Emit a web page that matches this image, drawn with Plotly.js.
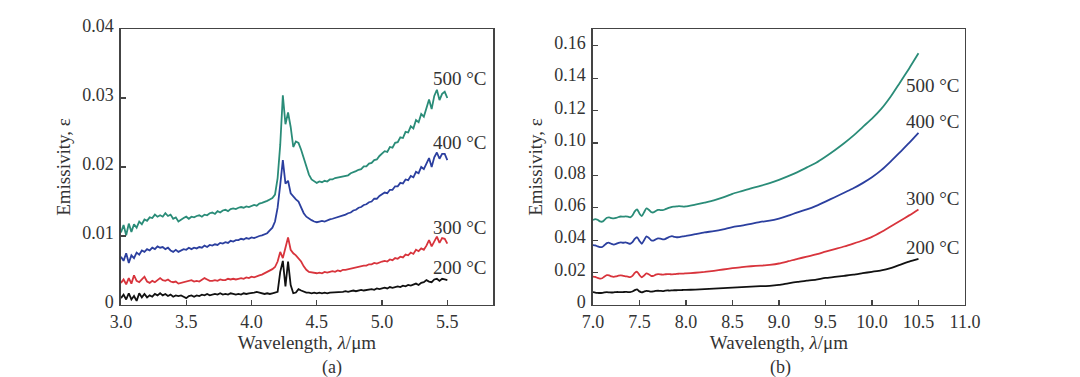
<!DOCTYPE html>
<html>
<head>
<meta charset="utf-8">
<script src="https://cdn.plot.ly/plotly-3.0.1.min.js"></script>
<style>html,body{margin:0;padding:0;background:#fff;}#chart{width:1080px;height:377px;}</style>
</head>
<body>
<div id="chart"></div>
<script>
// ---------- Panel (a): 3.0–5.5 µm ----------
const wavelengthA = [];
for (let i = 0; i <= 125; i++) wavelengthA.push(+(3.0 + 0.02 * i).toFixed(2));

const emis500A = [
0.0105,0.0116,0.0101,0.0118,0.0106,0.0117,0.0112,0.0121,0.0117,0.0124,
0.0122,0.0127,0.0126,0.0131,0.0128,0.0130,0.0128,0.0133,0.0129,0.0131,
0.0125,0.0127,0.0121,0.0124,0.0126,0.0128,0.0125,0.0128,0.0127,0.0129,
0.0130,0.0128,0.0131,0.0130,0.0133,0.0134,0.0132,0.0136,0.0134,0.0137,
0.0138,0.0136,0.0139,0.0140,0.0139,0.0141,0.0142,0.0141,0.0143,0.0142,
0.0144,0.0145,0.0144,0.0147,0.0148,0.0149,0.0151,0.0153,0.0155,0.0160,
0.0184,0.0232,0.0304,0.0262,0.0279,0.0258,0.0229,0.0237,0.0235,0.0225,
0.0213,0.0200,0.0189,0.0182,0.0179,0.0177,0.0179,0.0178,0.0180,0.0179,
0.0182,0.0182,0.0184,0.0185,0.0185,0.0187,0.0188,0.0188,0.0191,0.0192,
0.0194,0.0196,0.0197,0.0201,0.0201,0.0205,0.0206,0.0210,0.0211,0.0216,
0.0219,0.0223,0.0222,0.0229,0.0228,0.0235,0.0236,0.0243,0.0242,0.0251,
0.0250,0.0259,0.0256,0.0268,0.0265,0.0277,0.0273,0.0287,0.0298,0.0284,
0.0303,0.0312,0.0297,0.0306,0.0309,0.0300];

const emis400A = [
0.0070,0.0064,0.0075,0.0061,0.0072,0.0068,0.0076,0.0073,0.0079,0.0077,
0.0081,0.0079,0.0083,0.0081,0.0085,0.0083,0.0084,0.0081,0.0083,0.0079,
0.0077,0.0080,0.0077,0.0079,0.0081,0.0080,0.0083,0.0081,0.0083,0.0082,
0.0084,0.0083,0.0086,0.0084,0.0087,0.0086,0.0088,0.0087,0.0090,0.0089,
0.0091,0.0090,0.0093,0.0092,0.0094,0.0094,0.0096,0.0095,0.0097,0.0096,
0.0098,0.0097,0.0099,0.0100,0.0101,0.0103,0.0104,0.0108,0.0112,0.0121,
0.0141,0.0174,0.0210,0.0176,0.0180,0.0162,0.0157,0.0153,0.0150,0.0141,
0.0133,0.0128,0.0125,0.0123,0.0121,0.0120,0.0121,0.0122,0.0121,0.0123,
0.0124,0.0125,0.0126,0.0127,0.0129,0.0130,0.0131,0.0133,0.0134,0.0137,
0.0138,0.0141,0.0142,0.0145,0.0146,0.0149,0.0150,0.0154,0.0154,0.0158,
0.0160,0.0163,0.0162,0.0167,0.0167,0.0172,0.0172,0.0177,0.0176,0.0182,
0.0181,0.0187,0.0185,0.0193,0.0191,0.0200,0.0197,0.0206,0.0213,0.0200,
0.0214,0.0221,0.0212,0.0219,0.0219,0.0210];

const emis300A = [
0.0032,0.0037,0.0030,0.0039,0.0031,0.0043,0.0035,0.0033,0.0037,0.0041,
0.0034,0.0032,0.0035,0.0033,0.0036,0.0039,0.0036,0.0035,0.0037,0.0034,
0.0033,0.0034,0.0031,0.0032,0.0033,0.0033,0.0035,0.0036,0.0034,0.0035,
0.0034,0.0036,0.0039,0.0037,0.0035,0.0035,0.0036,0.0035,0.0037,0.0036,
0.0036,0.0038,0.0037,0.0038,0.0037,0.0038,0.0039,0.0038,0.0040,0.0039,
0.0041,0.0040,0.0042,0.0043,0.0044,0.0046,0.0047,0.0049,0.0052,0.0055,
0.0063,0.0077,0.0068,0.0083,0.0098,0.0080,0.0075,0.0072,0.0068,0.0063,
0.0056,0.0051,0.0048,0.0047,0.0046,0.0046,0.0047,0.0046,0.0048,0.0047,
0.0048,0.0049,0.0048,0.0050,0.0049,0.0051,0.0051,0.0052,0.0052,0.0054,
0.0054,0.0055,0.0056,0.0057,0.0057,0.0059,0.0059,0.0061,0.0060,0.0062,
0.0063,0.0064,0.0063,0.0066,0.0065,0.0068,0.0067,0.0070,0.0069,0.0073,
0.0072,0.0076,0.0074,0.0080,0.0078,0.0082,0.0080,0.0086,0.0094,0.0085,
0.0093,0.0099,0.0090,0.0097,0.0096,0.0089];

const emis200A = [
0.0010,0.0015,0.0008,0.0017,0.0008,0.0013,0.0006,0.0017,0.0011,0.0016,
0.0011,0.0014,0.0012,0.0016,0.0014,0.0017,0.0014,0.0016,0.0013,0.0015,
0.0012,0.0014,0.0013,0.0014,0.0012,0.0010,0.0013,0.0014,0.0012,0.0014,
0.0013,0.0015,0.0014,0.0016,0.0014,0.0015,0.0016,0.0015,0.0017,0.0015,
0.0016,0.0015,0.0017,0.0016,0.0015,0.0016,0.0015,0.0017,0.0016,0.0017,
0.0017,0.0018,0.0019,0.0018,0.0016,0.0016,0.0017,0.0016,0.0017,0.0018,
0.0019,0.0048,0.0064,0.0027,0.0063,0.0029,0.0017,0.0018,0.0023,0.0021,
0.0019,0.0018,0.0018,0.0017,0.0018,0.0017,0.0018,0.0017,0.0018,0.0017,
0.0018,0.0018,0.0019,0.0018,0.0019,0.0019,0.0020,0.0019,0.0020,0.0021,
0.0020,0.0021,0.0022,0.0021,0.0022,0.0022,0.0023,0.0022,0.0024,0.0023,
0.0024,0.0025,0.0024,0.0026,0.0025,0.0026,0.0027,0.0026,0.0028,0.0027,
0.0029,0.0028,0.0030,0.0031,0.0029,0.0032,0.0033,0.0036,0.0034,0.0033,
0.0037,0.0038,0.0035,0.0038,0.0037,0.0036];

// ---------- Panel (b): 7.0–10.5 µm ----------
const wavelengthB = [
7.000,7.025,7.050,7.075,7.100,7.125,7.150,7.175,7.200,7.225,
7.250,7.275,7.300,7.325,7.350,7.375,7.400,7.425,7.450,7.475,
7.500,7.525,7.550,7.575,7.600,7.625,7.650,7.675,7.700,7.725,
7.750,7.775,7.800,7.825,7.850,7.875,7.900,7.925,7.950,7.975,
8.000,8.1,8.2,8.3,8.4,8.5,8.6,8.7,8.8,8.9,
9.0,9.1,9.2,9.3,9.4,9.5,9.6,9.7,9.8,9.9,
10.0,10.1,10.2,10.3,10.4,10.5];

const emis500B = [
0.0525,0.0530,0.0526,0.0516,0.0514,0.0525,0.0538,0.0541,0.0536,0.0534,
0.0537,0.0543,0.0546,0.0545,0.0547,0.0545,0.0541,0.0552,0.0578,0.0590,
0.0565,0.0548,0.0572,0.0596,0.0588,0.0574,0.0571,0.0580,0.0587,0.0586,
0.0585,0.0590,0.0596,0.0601,0.0606,0.0607,0.0608,0.0610,0.0609,0.0607,
0.0608,0.0620,0.0632,0.0645,0.0664,0.0686,0.0703,0.0720,0.0735,0.0752,
0.0772,0.0795,0.0820,0.0849,0.0878,0.0915,0.0955,0.0998,0.1045,0.1098,
0.1150,0.1210,0.1285,0.1372,0.1460,0.1553];

const emis400B = [
0.0370,0.0368,0.0362,0.0357,0.0358,0.0370,0.0382,0.0384,0.0377,0.0373,
0.0377,0.0383,0.0386,0.0384,0.0386,0.0382,0.0378,0.0388,0.0408,0.0418,
0.0395,0.0378,0.0400,0.0424,0.0415,0.0400,0.0397,0.0405,0.0411,0.0409,
0.0405,0.0407,0.0414,0.0421,0.0425,0.0421,0.0418,0.0419,0.0422,0.0424,
0.0426,0.0437,0.0448,0.0456,0.0467,0.0481,0.0490,0.0501,0.0513,0.0520,
0.0533,0.0551,0.0572,0.0590,0.0612,0.0638,0.0665,0.0693,0.0720,0.0752,
0.0788,0.0832,0.0885,0.0942,0.1000,0.1062];

const emis300B = [
0.0175,0.0173,0.0167,0.0163,0.0165,0.0176,0.0184,0.0183,0.0176,0.0174,
0.0177,0.0181,0.0183,0.0180,0.0177,0.0175,0.0172,0.0180,0.0198,0.0205,
0.0185,0.0171,0.0182,0.0195,0.0190,0.0180,0.0180,0.0187,0.0190,0.0189,
0.0187,0.0189,0.0191,0.0190,0.0189,0.0190,0.0192,0.0193,0.0194,0.0194,
0.0195,0.0199,0.0204,0.0211,0.0219,0.0227,0.0234,0.0239,0.0243,0.0248,
0.0256,0.0270,0.0285,0.0298,0.0312,0.0329,0.0345,0.0361,0.0379,0.0398,
0.0420,0.0450,0.0484,0.0518,0.0553,0.0590];

const emis200B = [
0.0080,0.0077,0.0075,0.0074,0.0075,0.0078,0.0079,0.0078,0.0077,0.0078,
0.0080,0.0080,0.0079,0.0080,0.0081,0.0080,0.0080,0.0083,0.0092,0.0097,
0.0084,0.0078,0.0083,0.0087,0.0085,0.0083,0.0084,0.0087,0.0088,0.0087,
0.0086,0.0088,0.0090,0.0089,0.0090,0.0091,0.0091,0.0092,0.0092,0.0093,
0.0093,0.0095,0.0098,0.0101,0.0104,0.0107,0.0110,0.0113,0.0116,0.0118,
0.0124,0.0134,0.0143,0.0150,0.0157,0.0167,0.0173,0.0180,0.0187,0.0196,
0.0205,0.0214,0.0228,0.0248,0.0268,0.0285];

const seriesNames = ['500 °C', '400 °C', '300 °C', '200 °C'];
const seriesColors = ['#2a8c78', '#2b3f9f', '#d8343c', '#111111'];

const xTicksA = [3.0, 3.5, 4.0, 4.5, 5.0, 5.5];
const yTicksA = [0, 0.01, 0.02, 0.03, 0.04];
const yTickTextA = ['0', '0.01', '0.02', '0.03', '0.04'];
const xTicksB = [7.0, 7.5, 8.0, 8.5, 9.0, 9.5, 10.0, 10.5, 11.0];
const yTicksB = [0, 0.02, 0.04, 0.06, 0.08, 0.10, 0.12, 0.14, 0.16];
const yTickTextB = ['0', '0.02', '0.04', '0.06', '0.08', '0.10', '0.12', '0.14', '0.16'];

// label anchor values (data coordinates)
const labelXA = 5.60;
const labelYA = [0.0328, 0.0235, 0.0112, 0.0055];
const labelXB = 10.66;
const labelYB = [0.1357, 0.1135, 0.0660, 0.0352];

const seriesA = [emis500A, emis400A, emis300A, emis200A];
const seriesB = [emis500B, emis400B, emis300B, emis200B];

const traces = [];
seriesA.forEach((ys, k) => traces.push({
  x: wavelengthA, y: ys, type: 'scatter', mode: 'lines', name: seriesNames[k],
  line: {color: seriesColors[k], width: 1.8}, xaxis: 'x', yaxis: 'y', showlegend: false
}));
seriesB.forEach((ys, k) => traces.push({
  x: wavelengthB, y: ys, type: 'scatter', mode: 'lines', name: seriesNames[k],
  line: {color: seriesColors[k], width: 1.8, shape: 'spline', smoothing: 0.6}, xaxis: 'x2', yaxis: 'y2', showlegend: false
}));

const FONT = 'Liberation Serif, Times New Roman, serif';
const TXT = '#333333';
const axisCommon = {
  showline: true, mirror: true, linecolor: '#444444', linewidth: 1.5,
  ticks: 'inside', ticklen: 5, tickwidth: 1.2, tickcolor: '#444444',
  showgrid: false, zeroline: false,
  tickfont: {family: FONT, size: 18, color: TXT}
};

const annotations = [];
seriesNames.forEach((n, k) => {
  annotations.push({x: labelXA, y: labelYA[k], xref: 'x', yref: 'y', text: n, showarrow: false,
    font: {family: FONT, size: 19, color: TXT}});
  annotations.push({x: labelXB, y: labelYB[k], xref: 'x2', yref: 'y2', text: n, showarrow: false,
    font: {family: FONT, size: 19, color: TXT}});
});
annotations.push({x: 0.296, y: 0.024, xref: 'paper', yref: 'paper', text: '(a)', showarrow: false,
  yanchor: 'middle', font: {family: FONT, size: 18, color: TXT}});
annotations.push({x: 0.734, y: 0.024, xref: 'paper', yref: 'paper', text: '(b)', showarrow: false,
  yanchor: 'middle', font: {family: FONT, size: 18, color: TXT}});

const layout = {
  width: 1080, height: 377, autosize: false,
  margin: {l: 0, r: 0, t: 0, b: 0},
  paper_bgcolor: '#ffffff', plot_bgcolor: '#ffffff',
  font: {family: FONT, color: TXT},
  xaxis: Object.assign({}, axisCommon, {
    domain: [0.112, 0.4565], range: [3.0, 5.85], anchor: 'y',
    tickvals: xTicksA, tickformat: '.1f',
    title: {text: 'Wavelength, <i>λ</i>/μm', font: {family: FONT, size: 19, color: TXT}, standoff: 4}
  }),
  yaxis: Object.assign({}, axisCommon, {
    domain: [0.191, 0.923], range: [0, 0.04], anchor: 'x',
    tickvals: yTicksA, ticktext: yTickTextA, ticklabelshift: -3, ticklabelstandoff: 2,
    title: {text: 'Emissivity, ε', font: {family: FONT, size: 19, color: TXT}, standoff: 6}
  }),
  xaxis2: Object.assign({}, axisCommon, {
    domain: [0.549, 0.8935], range: [7.0, 11.0], anchor: 'y2',
    tickvals: xTicksB, tickformat: '.1f',
    title: {text: 'Wavelength, <i>λ</i>/μm', font: {family: FONT, size: 19, color: TXT}, standoff: 4}
  }),
  yaxis2: Object.assign({}, axisCommon, {
    domain: [0.191, 0.923], range: [0, 0.1703], anchor: 'x2',
    tickvals: yTicksB, ticktext: yTickTextB, ticklabelshift: -3, ticklabelstandoff: 2,
    title: {text: 'Emissivity, ε', font: {family: FONT, size: 19, color: TXT}, standoff: 6}
  }),
  annotations: annotations
};

Plotly.newPlot('chart', traces, layout, {displayModeBar: false, staticPlot: true});
</script>
</body>
</html>
